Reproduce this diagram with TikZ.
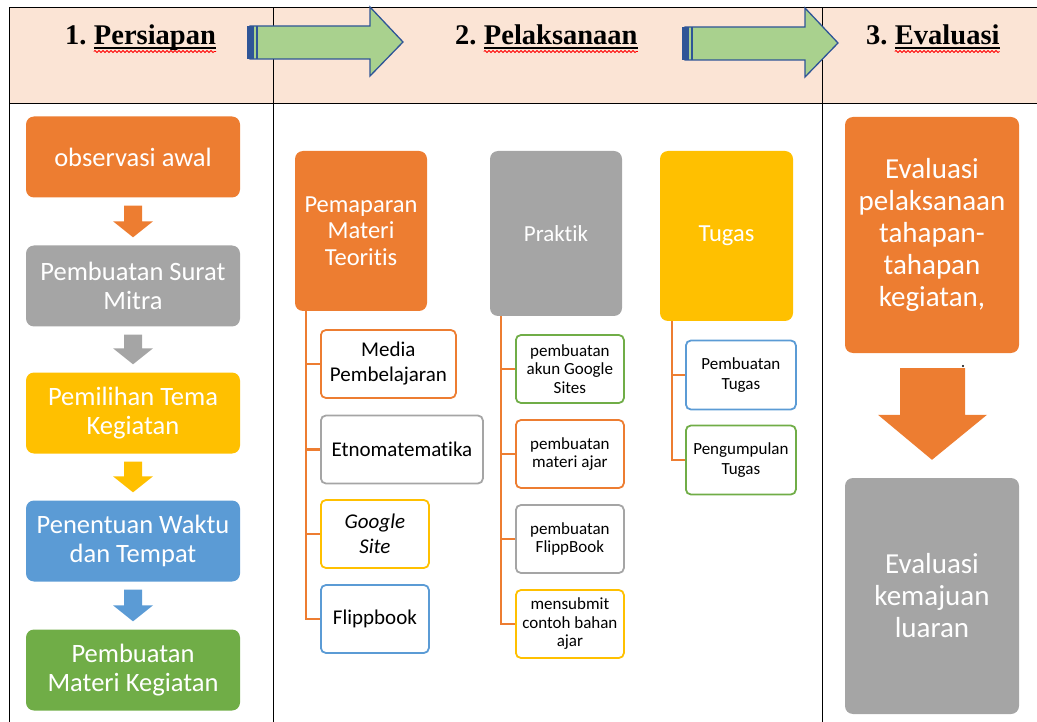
\documentclass[tikz,border=0pt]{standalone}
\usepackage{fontspec}
\setmainfont{Carlito}[Ligatures=NoCommon]
\newfontfamily\headfont{Liberation Serif}
\usetikzlibrary{calc,decorations.pathmorphing}

\definecolor{accorange}{HTML}{ED7D31}
\definecolor{accgray}{HTML}{A5A5A5}
\definecolor{accgold}{HTML}{FFC000}
\definecolor{accblue}{HTML}{5B9BD5}
\definecolor{accgreen}{HTML}{70AD47}
\definecolor{headfill}{HTML}{FBE4D5}
\definecolor{arrowfill}{HTML}{A9D18E}
\definecolor{arrowline}{HTML}{2F5597}

\newcommand{\fs}[2]{\fontsize{#1}{#2}\selectfont}
% small block arrow between two stacked boxes
\newcommand{\flowarrow}[3]{%
  \fill[#3] ($(#1.south)+(-9,8)$) -- ($(#1.south)+(9,8)$) -- ($(#2.north)+(9,-24)$)
    -- ($(#2.north)+(20,-24)$) -- ($(#2.north)+(0,-8)$) -- ($(#2.north)+(-20,-24)$)
    -- ($(#2.north)+(-9,-24)$) -- cycle;}
% green arrow in the header row
\newcommand{\headarrow}[2]{%
  \begin{scope}[shift={(#1,#2)}]
    \filldraw[fill=arrowfill, draw=arrowline, line width=1.3pt]
      (250,26) -- (370,26) -- (370,7) -- (403,42) -- (370,76) -- (370,59) -- (250,59) -- cycle;
    \fill[arrowline] (247,26) rectangle (254,59);
    \draw[arrowline, line width=1.3pt] (257,26) -- (257,59);
  \end{scope}}

\tikzset{
  stage/.style={rounded corners=8pt, text=white, align=center, inner sep=2pt},
  leftbox/.style={stage, minimum width=214pt, minimum height=81pt, font=\fs{26.5}{29.5}},
  subbox/.style={draw=#1, line width=1.8pt, rounded corners=5pt, align=center, inner sep=2pt, anchor=west},
  branch/.style={draw=accorange, line width=2.2pt},
  heading/.style={font=\headfont\bfseries\fs{28.5}{32}, anchor=base west, inner sep=0pt},
  wavy/.style={red, line width=.8pt, decorate, decoration={snake, amplitude=1pt, segment length=4pt}},
}

\begin{document}
\begin{tikzpicture}[x=1pt, y=-1pt]
  \useasboundingbox (0,0) rectangle (1037,722);

  % table
  \fill[headfill] (9,8) rectangle (1037,104);
  \draw[line width=1pt] (9,722) -- (9,8) -- (1037,8);
  \draw[line width=1pt] (9,104) -- (1037,104);
  \draw[line width=1pt] (273,8) -- (273,722);
  \draw[line width=1pt] (822,8) -- (822,722);

  % headings
  \node[heading] (h1num) at (65,45) {1.};
  \node[heading] (h1word) at ($(h1num.base east)+(7,0)$) {Persiapan};
  \node[heading] (h2num) at (455,45) {2.};
  \node[heading] (h2word) at ($(h2num.base east)+(7,0)$) {Pelaksanaan};
  \node[heading] (h3num) at (866,45) {3.};
  \node[heading] (h3word) at ($(h3num.base east)+(7,0)$) {Evaluasi};
  \foreach \w in {h1word,h2word,h3word} {
    \draw[line width=1.2pt] ($(\w.base west)+(0,3)$) -- ($(\w.base east)+(0,3)$);
    \draw[wavy] ($(\w.base west)+(0,6.5)$) -- ($(\w.base east)+(0,6.5)$);
  }
  \headarrow{0}{0}
  \headarrow{435}{1}

  % 1. Persiapan
  \node[leftbox, fill=accorange] (obs) at (133,157) {observasi awal};
  \node[leftbox, fill=accgray] (surat) at (133,286) {Pembuatan Surat\\Mitra};
  \node[leftbox, fill=accgold] (tema) at (133,413) {Pemilihan Tema\\Kegiatan};
  \node[leftbox, fill=accblue] (waktu) at (133,541) {Penentuan Waktu\\dan Tempat};
  \node[leftbox, fill=accgreen] (materi) at (133,670) {Pembuatan\\Materi Kegiatan};
  \flowarrow{obs}{surat}{accorange}
  \flowarrow{surat}{tema}{accgray}
  \flowarrow{tema}{waktu}{accgold}
  \flowarrow{waktu}{materi}{accblue}

  % 2. Pelaksanaan
  \node[stage, fill=accorange, minimum width=132pt, minimum height=160pt, font=\fs{24.5}{26.5}] (pemaparan) at (361,231) {Pemaparan\\Materi\\Teoritis};
  \node[stage, fill=accgray, minimum width=132pt, minimum height=165pt, font=\fs{23}{26}] (praktik) at (556,233.5) {Praktik};
  \node[stage, fill=accgold, minimum width=133pt, minimum height=170pt, font=\fs{24.5}{26}] (tugas) at (726.5,236) {Tugas};

  \node[subbox=accorange, minimum width=135pt, minimum height=68pt, font=\fs{21}{25}] (media) at (320,364) {Media\\Pembelajaran};
  \node[subbox=accgray, minimum width=162pt, minimum height=68pt, font=\fs{21}{25}] (etno) at (320,449.5) {Etnomatematika};
  \node[subbox=accgold, minimum width=108pt, minimum height=68pt, font=\fs{21}{25}\itshape] (gsite) at (320,534) {Google\\Site};
  \node[subbox=accblue, minimum width=108pt, minimum height=68pt, font=\fs{21}{25}] (flip) at (320,619) {Flippbook};
  \foreach \c in {media,etno,gsite,flip}
    \draw[branch] ($(pemaparan.south west)+(11,0)$) |- (\c.west);

  \node[subbox=accgreen, minimum width=108pt, minimum height=68pt, font=\fs{17}{18.5}] (akun) at (515,369) {pembuatan\\akun Google\\Sites};
  \node[subbox=accorange, minimum width=108pt, minimum height=68pt, font=\fs{17}{18.5}] (ajar) at (515,454) {pembuatan\\materi ajar};
  \node[subbox=accgray, minimum width=108pt, minimum height=68pt, font=\fs{17}{18.5}] (fbook) at (515,539) {pembuatan\\FlippBook};
  \node[subbox=accgold, minimum width=108pt, minimum height=68pt, font=\fs{17}{18.5}] (submit) at (515,624) {mensubmit\\contoh bahan\\ajar};
  \foreach \c in {akun,ajar,fbook,submit}
    \draw[branch] ($(praktik.south west)+(11,0)$) |- (\c.west);

  \node[subbox=accblue, minimum width=110pt, minimum height=69pt, font=\fs{17}{19.5}] (buat) at (685,375) {Pembuatan\\Tugas};
  \node[subbox=accgreen, minimum width=110pt, minimum height=69pt, font=\fs{17}{19.5}] (kumpul) at (685,460) {Pengumpulan\\Tugas};
  \foreach \c in {buat,kumpul}
    \draw[branch] ($(tugas.south west)+(12,0)$) |- (\c.west);

  % 3. Evaluasi
  \node[stage, fill=accorange, minimum width=174pt, minimum height=236pt, font=\fs{29}{32}] (evalA) at (932,235) {Evaluasi\\pelaksanaan\\tahapan-\\tahapan\\kegiatan,};
  \node[stage, fill=accgray, minimum width=174pt, minimum height=236pt, font=\fs{29}{32}] (evalB) at (932,596) {Evaluasi\\kemajuan\\luaran};
  \fill (963,366) circle (1.2pt);
  \fill[accorange] ($(evalA.south)+(-32,15)$) -- ($(evalA.south)+(33,15)$) -- ($(evalB.north)+(33,-63)$)
    -- ($(evalB.north)+(55,-63)$) -- ($(evalB.north)+(0,-18)$) -- ($(evalB.north)+(-54,-63)$)
    -- ($(evalB.north)+(-32,-63)$) -- cycle;
\end{tikzpicture}
\end{document}
